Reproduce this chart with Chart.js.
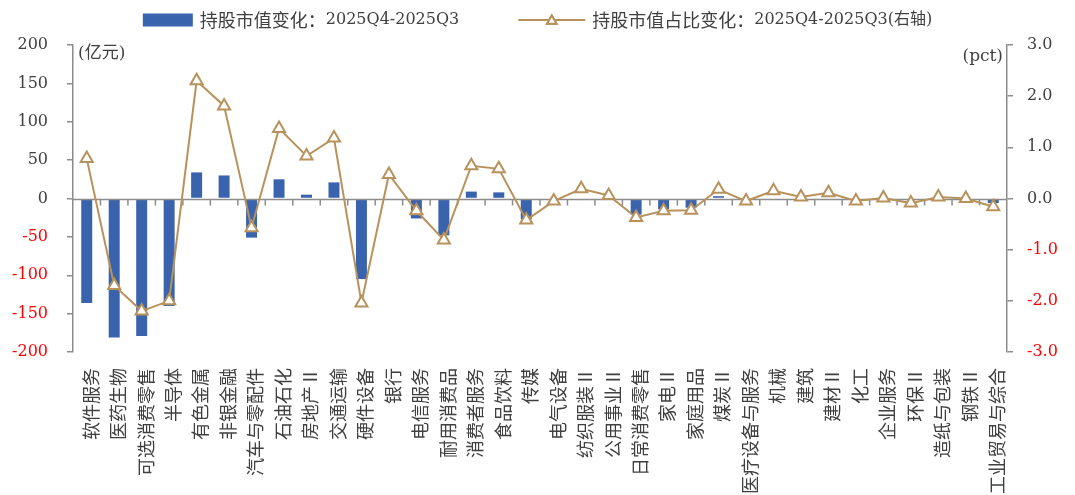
<!DOCTYPE html>
<html>
<head>
<meta charset="utf-8">
<script src="https://cdn.jsdelivr.net/npm/chart.js@4.4.1/dist/chart.umd.min.js"></script>
<style>
  html, body { margin: 0; padding: 0; background: #fff; }
</style>
</head>
<body>
<canvas id="chart" width="1075" height="495"></canvas>
<script>
// categories (industries) and the two series
const categories = [
  '软件服务', '医药生物', '可选消费零售', '半导体', '有色金属', '非银金融', '汽车与零配件',
  '石油石化', '房地产Ⅱ', '交通运输', '硬件设备', '银行', '电信服务', '耐用消费品',
  '消费者服务', '食品饮料', '传媒', '电气设备', '纺织服装Ⅱ', '公用事业Ⅱ', '日常消费零售',
  '家电Ⅱ', '家庭用品', '煤炭Ⅱ', '医疗设备与服务', '机械', '建筑', '建材Ⅱ', '化工',
  '企业服务', '环保Ⅱ', '造纸与包装', '钢铁Ⅱ', '工业贸易与综合'
];
// 持股市值变化 (亿元)
const valueChange = [
  -136, -181, -179, -140, 34, 30, -51, 25, 5, 21, -105, -1, -26, -48,
  9, 8, -27, -1, -2, -1, -21, -14, -12, 3, -1, 1, 0, 1, -1, 0, -2, 0, 0, -6
];
// 持股市值占比变化 (pct, right axis)
const shareChange = [
  0.78, -1.70, -2.20, -2.00, 2.30, 1.81, -0.57, 1.37, 0.83, 1.18, -2.04, 0.47, -0.24, -0.81,
  0.64, 0.58, -0.42, -0.05, 0.19, 0.06, -0.37, -0.24, -0.23, 0.18, -0.05, 0.15, 0.03, 0.11,
  -0.05, 0.01, -0.09, 0.03, 0.00, -0.16
];
const leftTicks = [-200, -150, -100, -50, 0, 50, 100, 150, 200];
const rightTicks = [-3, -2, -1, 0, 1, 2, 3];
// legend text split in a Chinese head and a Latin tail
const legendHeads = ['持股市值变化：', '持股市值占比变化：'];
const legendTails = ['2025Q4-2025Q3', '2025Q4-2025Q3(右轴)'];
const unitLeft = '(亿元)';
const unitRight = '(pct)';

const barColor = '#3A63AD';
const lineColor = '#B8925C';
const axisColor = '#8C8C8C';
const textColor = '#404040';
const negColor = '#FF0000';
const serif = '"DejaVu Serif", "Noto Sans CJK SC", serif';
const cjk = '"Noto Sans CJK SC", sans-serif';

// zero line with small category ticks, drawn after the bars and before the line
const zeroAxis = {
  id: 'zeroAxis',
  beforeDatasetDraw(chart, args) {
    if (args.index !== 1) return;
    const { ctx, chartArea } = chart;
    const xs = chart.scales.x;
    const y = Math.round(chart.scales.y.getPixelForValue(0)) + 0.5;
    ctx.save();
    ctx.strokeStyle = axisColor;
    ctx.lineWidth = 1.5;
    ctx.beginPath();
    ctx.moveTo(chartArea.left, y);
    ctx.lineTo(chartArea.right, y);
    for (let i = 1; i < categories.length; i++) {
      const x = (xs.getPixelForValue(i - 1) + xs.getPixelForValue(i)) / 2;
      ctx.moveTo(x, y);
      ctx.lineTo(x, y + 6);
    }
    ctx.stroke();
    ctx.restore();
  }
};

// legend on top + unit captions
const topLegend = {
  id: 'topLegend',
  afterDraw(chart) {
    const ctx = chart.ctx;
    ctx.save();
    ctx.textBaseline = 'middle';
    const headFont = '18px ' + cjk;
    const tailFont = '16px ' + serif;
    const widths = legendHeads.map((h, i) => {
      ctx.font = headFont;
      const a = ctx.measureText(h).width;
      ctx.font = tailFont;
      return [a, ctx.measureText(legendTails[i]).width];
    });
    const sw1 = 50, sw2 = 67, gap = 7, between = 59;
    const total = sw1 + gap + widths[0][0] + widths[0][1] + between + sw2 + gap + widths[1][0] + widths[1][1];
    let x = (chart.width - total) / 2;
    const y = 20;
    const drawText = i => {
      ctx.fillStyle = textColor;
      ctx.font = headFont;
      ctx.fillText(legendHeads[i], x, y);
      x += widths[i][0];
      ctx.font = tailFont;
      ctx.fillText(legendTails[i], x, y);
      x += widths[i][1];
    };
    ctx.fillStyle = barColor;
    ctx.fillRect(x, y - 6.5, sw1, 13);
    x += sw1 + gap;
    drawText(0);
    x += between;
    ctx.strokeStyle = lineColor;
    ctx.lineWidth = 2;
    ctx.beginPath();
    ctx.moveTo(x, y);
    ctx.lineTo(x + sw2, y);
    ctx.stroke();
    Chart.helpers.drawPoint(ctx, {
      pointStyle: 'triangle', radius: 5.5, rotation: 0, borderWidth: 2
    }, x + sw2 / 2, y + 1);
    ctx.fillStyle = '#fff';
    ctx.fill();
    ctx.stroke();
    x += sw2 + gap;
    drawText(1);

    ctx.fillStyle = textColor;
    ctx.font = '17px ' + serif;
    ctx.textAlign = 'left';
    ctx.fillText(unitLeft, chart.chartArea.left + 5, 54);
    ctx.textAlign = 'right';
    ctx.fillText(unitRight, chart.chartArea.right - 4, 57);
    ctx.restore();
  }
};

new Chart(document.getElementById('chart'), {
  data: {
    labels: categories,
    datasets: [
      {
        type: 'bar',
        label: legendHeads[0] + legendTails[0],
        data: valueChange,
        yAxisID: 'y',
        backgroundColor: barColor,
        barPercentage: 0.4,
        categoryPercentage: 1.0,
        order: 2
      },
      {
        type: 'line',
        label: legendHeads[1] + legendTails[1],
        data: shareChange,
        yAxisID: 'y1',
        borderColor: lineColor,
        borderWidth: 2,
        tension: 0,
        pointStyle: 'triangle',
        pointRadius: 7,
        pointBorderWidth: 2,
        pointBorderColor: lineColor,
        pointBackgroundColor: '#fff',
        clip: false,
        order: 1
      }
    ]
  },
  options: {
    responsive: false,
    animation: false,
    layout: { padding: { top: 45, left: 0, right: 0, bottom: 0 } },
    plugins: {
      legend: { display: false },
      tooltip: { enabled: false }
    },
    scales: {
      x: {
        grid: { display: false },
        border: { display: false },
        afterFit: s => { s.height = 143; },
        ticks: {
          autoSkip: false,
          minRotation: 90,
          maxRotation: 90,
          padding: 8,
          labelOffset: 4,
          color: textColor,
          font: { family: cjk, size: 18 }
        }
      },
      y: {
        position: 'left',
        min: leftTicks[0],
        max: leftTicks[leftTicks.length - 1],
        afterBuildTicks: s => { s.ticks = leftTicks.map(v => ({ value: v })); },
        afterFit: s => { s.width = 73; },
        grid: { drawOnChartArea: false, drawTicks: true, tickLength: 6, color: axisColor, lineWidth: 1.5 },
        border: { display: true, color: axisColor, width: 1.5 },
        ticks: {
          padding: 19,
          color: c => (c.tick.value < 0 ? negColor : textColor),
          font: { family: serif, size: 16 }
        }
      },
      y1: {
        position: 'right',
        min: rightTicks[0],
        max: rightTicks[rightTicks.length - 1],
        afterBuildTicks: s => { s.ticks = rightTicks.map(v => ({ value: v })); },
        afterFit: s => { s.width = 68; },
        grid: { drawOnChartArea: false, drawTicks: true, tickLength: 6, color: axisColor, lineWidth: 1.5 },
        border: { display: true, color: axisColor, width: 1.5 },
        ticks: {
          padding: 14,
          callback: v => Number(v).toFixed(1),
          color: c => (c.tick.value < 0 ? negColor : textColor),
          font: { family: serif, size: 16 }
        }
      }
    }
  },
  plugins: [zeroAxis, topLegend]
});
</script>
</body>
</html>
